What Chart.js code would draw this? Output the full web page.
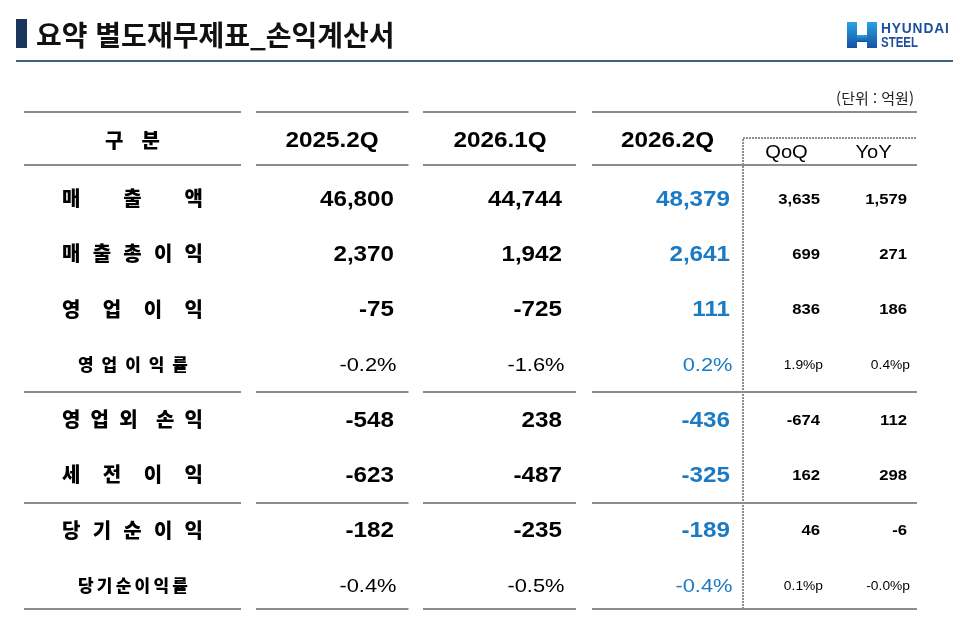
<!DOCTYPE html>
<html lang="ko">
<head>
<meta charset="utf-8">
<title>요약 별도재무제표_손익계산서</title>
<script src="https://cdn.jsdelivr.net/npm/chart.js@4.4.1/dist/chart.umd.min.js"></script>
<style>
  html, body { margin: 0; padding: 0; background: #fff; }
  #page { position: relative; width: 960px; height: 641px; overflow: hidden; }
  #table { position: absolute; left: 0; top: 0; }
  .mark { position: absolute; left: 16px; top: 19px; width: 11px; height: 29px; background: #1b365d; }
  .title { position: absolute; left: 36px; top: 14px; line-height: 40px; font: bold 28px "Noto Sans CJK KR"; color: #111; white-space: nowrap; }
  .rule { position: absolute; left: 16px; top: 60px; width: 937px; height: 2px; background: #3d6287; }
  .unit { position: absolute; right: 46px; top: 87px; line-height: 20px; font: 15px "Noto Sans CJK KR"; color: #222; }
  .logo { position: absolute; left: 846px; top: 21px; }
  .logo-text { position: absolute; left: 881px; font-family: "Liberation Sans"; font-weight: bold; color: #1d4f9c; line-height: 12px; white-space: nowrap; }
  .l1 { top: 22px; font-size: 14px; letter-spacing: 0.9px; transform: scaleX(0.98); transform-origin: left; }
  .l2 { top: 36px; font-size: 14px; transform: scaleX(0.82); transform-origin: left; }
</style>
</head>
<body>
<div id="page">
  <canvas id="table" width="960" height="641"></canvas>
  <div class="mark"></div>
  <div class="title">요약 별도재무제표_손익계산서</div>
  <div class="rule"></div>
  <div class="unit">(단위 : 억원)</div>
  <svg class="logo" width="32" height="29" viewBox="0 0 32 29">
    <defs>
      <linearGradient id="hg" x1="0" y1="0" x2="0" y2="1">
        <stop offset="0" stop-color="#2aa3e2"/>
        <stop offset="1" stop-color="#1452a3"/>
      </linearGradient>
    </defs>
    <rect x="1" y="1" width="10" height="26" fill="url(#hg)"/>
    <rect x="11" y="14" width="10" height="7" fill="url(#hg)"/>
    <rect x="21" y="1" width="10" height="26" fill="url(#hg)"/>
  </svg>
  <div class="logo-text l1">HYUNDAI</div>
  <div class="logo-text l2">STEEL</div>
</div>
<script>
// rows of the income statement
var rowLabels = ['매출액', '매출총이익', '영업이익', '영업이익률', '영업외 손익', '세전이익', '당기순이익', '당기순이익률'];
var periods = ['2025.2Q', '2026.1Q', '2026.2Q'];
var changeLabels = ['QoQ', 'YoY'];

// values in 억원, ratios in %
var q2025_2 = [46800, 2370, -75, -0.2, -548, -623, -182, -0.4];
var q2026_1 = [44744, 1942, -725, -1.6, 238, -487, -235, -0.5];
var q2026_2 = [48379, 2641, 111, 0.2, -436, -325, -189, -0.4];
var qoq = [3635, 699, 836, 1.9, -674, 162, 46, 0.1];
var yoy = [1579, 271, 186, 0.4, 112, 298, -6, -0.0];

var ratioRows = [3, 7];

// layout, in x-scale units (table width)
var colRight = [370, 538, 706, 796, 883];
var headCenter = [308, 476, 643.5, 762.5, 849.5];
var groupSpans = [[0, 217], [232, 384.5], [399, 552], [568, 893]];
var BLUE = '#1b7ac4';
var NUM = '"Liberation Sans", Arial, sans-serif';
var KR = '"Noto Sans CJK KR", sans-serif';

function fmt(v, ratio, change) {
  if (ratio) {
    var neg = v < 0 || Object.is(v, -0);
    return (neg ? '-' : '') + Math.abs(v).toFixed(1) + (change ? '%p' : '%');
  }
  return v.toLocaleString('en-US');
}

function drawText(ctx, text, x, y, font, color, align, sx) {
  ctx.save();
  ctx.font = font;
  ctx.fillStyle = color;
  ctx.textAlign = align;
  ctx.textBaseline = 'middle';
  ctx.translate(x, y);
  ctx.scale(sx, 1);
  ctx.fillText(text, 0, 0);
  ctx.restore();
}

// spread the glyphs of a label over [left, right], a space makes a wider gap
function drawJustified(ctx, label, left, right, y, font, color) {
  ctx.save();
  ctx.font = font;
  var glyphs = [], weights = [], space = false;
  for (var ch of label) {
    if (ch === ' ') { space = true; continue; }
    if (glyphs.length) weights.push(space ? 1.8 : 1);
    glyphs.push(ch);
    space = false;
  }
  var widths = glyphs.map(function(g) { return ctx.measureText(g).width; });
  var free = (right - left) - widths.reduce(function(a, b) { return a + b; }, 0);
  var unit = free / weights.reduce(function(a, b) { return a + b; }, 0);
  ctx.restore();
  var cx = left;
  glyphs.forEach(function(g, i) {
    drawText(ctx, g, cx, y, font, color, 'left', 1);
    cx += widths[i] + (weights[i] || 0) * unit;
  });
}

var columns = [q2025_2, q2026_1, q2026_2, qoq, yoy];
var datasets = columns.map(function(values, c) {
  return {
    label: c < 3 ? periods[c] : changeLabels[c - 3],
    data: values.map(function(v, i) { return { x: colRight[c], y: rowLabels[i], v: v }; }),
    pointRadius: 0
  };
});

var tableCells = {
  id: 'tableCells',
  beforeDatasetsDraw: function(chart) {
    var ctx = chart.ctx, xs = chart.scales.x, ys = chart.scales.y;
    var row0 = ys.getPixelForValue(0);
    var rowLast = ys.getPixelForValue(rowLabels.length - 1);
    var mid = function(a, b) { return (ys.getPixelForValue(a) + ys.getPixelForValue(b)) / 2; };
    var rules = [row0 - 87, row0 - 33.5, mid(3, 4), mid(5, 6), rowLast + 23.5];
    ctx.save();
    ctx.strokeStyle = '#8c8c8c';
    ctx.lineWidth = 2;
    rules.forEach(function(ry) {
      ry = Math.round(ry);
      groupSpans.forEach(function(s) {
        ctx.beginPath();
        ctx.moveTo(xs.getPixelForValue(s[0]), ry);
        ctx.lineTo(xs.getPixelForValue(s[1]), ry);
        ctx.stroke();
      });
    });
    // dotted frame round QoQ / YoY
    ctx.setLineDash([2, 1]);
    ctx.strokeStyle = '#8e8e8e';
    ctx.lineWidth = 2;
    var bx = Math.round(xs.getPixelForValue(719)), by = Math.round(row0 - 61);
    ctx.beginPath();
    ctx.moveTo(bx, Math.round(rules[4]));
    ctx.lineTo(bx, by);
    ctx.lineTo(xs.getPixelForValue(893), by);
    ctx.stroke();
    ctx.restore();
  },
  afterDatasetsDraw: function(chart) {
    var ctx = chart.ctx, xs = chart.scales.x, ys = chart.scales.y;
    var row0 = ys.getPixelForValue(0);

    // header row
    drawJustified(ctx, '구분', xs.getPixelForValue(81), xs.getPixelForValue(136), row0 - 58.5, '900 20px ' + KR, '#000');
    periods.forEach(function(p, i) {
      drawText(ctx, p, xs.getPixelForValue(headCenter[i]), row0 - 58, 'bold 21.5px ' + NUM, '#000', 'center', 1.13);
    });
    changeLabels.forEach(function(p, i) {
      drawText(ctx, p, xs.getPixelForValue(headCenter[3 + i]), row0 - 45.5, '17.5px ' + NUM, '#000', 'center', 1.15);
    });

    // row labels
    rowLabels.forEach(function(lab, i) {
      var y = ys.getPixelForValue(i);
      if (ratioRows.indexOf(i) >= 0) {
        drawJustified(ctx, lab, xs.getPixelForValue(54), xs.getPixelForValue(164), y, '900 17px ' + KR, '#000');
      } else {
        drawJustified(ctx, lab, xs.getPixelForValue(38), xs.getPixelForValue(179), y, '900 20px ' + KR, '#000');
      }
    });

    // cells
    chart.data.datasets.forEach(function(ds, c) {
      var meta = chart.getDatasetMeta(c);
      var change = c >= 3;
      var color = c === 2 ? BLUE : '#000';
      meta.data.forEach(function(pt, i) {
        var ratio = ratioRows.indexOf(i) >= 0;
        var text = fmt(ds.data[i].v, ratio, change);
        var font, sx, dx = 0;
        if (!change) {
          font = ratio ? '19px ' + NUM : 'bold 22px ' + NUM;
          sx = ratio ? 1.15 : 1.1;
          if (ratio) dx = 2.5;
        } else {
          font = ratio ? '12px ' + NUM : 'bold 14.5px ' + NUM;
          sx = 1.15;
          if (ratio) dx = 3;
        }
        drawText(ctx, text, pt.x + dx, pt.y + 1, font, color, 'right', sx);
      });
    });
  }
};

new Chart(document.getElementById('table').getContext('2d'), {
  type: 'scatter',
  data: { datasets: datasets },
  options: {
    responsive: false,
    animation: false,
    events: [],
    layout: { padding: { left: 24, right: 43, top: 171, bottom: 28 } },
    scales: {
      x: { type: 'linear', min: 0, max: 893, display: false },
      y: { type: 'category', labels: rowLabels, offset: true, display: false }
    },
    plugins: {
      legend: { display: false },
      tooltip: { enabled: false }
    }
  },
  plugins: [tableCells]
});
</script>
</body>
</html>
